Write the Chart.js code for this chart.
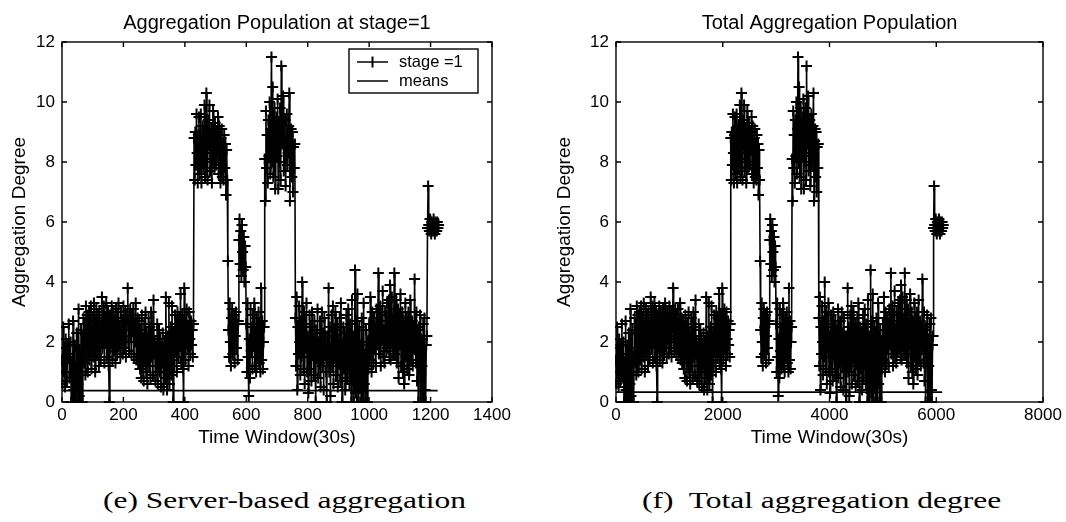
<!DOCTYPE html>
<html>
<head>
<meta charset="utf-8">
<script src="https://cdn.jsdelivr.net/npm/chart.js@4.4.1/dist/chart.umd.min.js"></script>
<style>
html,body{margin:0;padding:0;background:#fff;}
#page{position:relative;width:1066px;height:522px;overflow:hidden;background:#fff;}
.box{position:absolute;top:0;width:533px;height:460px;}
.cap{position:absolute;top:489px;font-family:"Liberation Serif","Times New Roman",serif;font-size:23.5px;line-height:23px;color:#000;white-space:pre;transform-origin:0 0;transform:scaleX(1.34);}
</style>
</head>
<body>
<div id="page">
  <div class="box" style="left:0"><canvas id="left" width="533" height="460"></canvas></div>
  <div class="box" style="left:533px"><canvas id="right" width="533" height="460"></canvas></div>
  <div class="cap" style="left:103px">(e) Server-based aggregation</div>
  <div class="cap" style="left:642px">(f)  Total aggregation degree</div>
</div>
<script>
// ---- data ----
const leftTitle = 'Aggregation Population at stage=1';
const rightTitle = 'Total Aggregation Population';
const xAxisTitle = 'Time Window(30s)';
const yAxisTitle = 'Aggregation Degree';
const legendLabels = ['stage =1', 'means'];

const leftXTicks = [0, 200, 400, 600, 800, 1000, 1200, 1400];
const rightXTicks = [0, 2000, 4000, 6000, 8000];
const yTicks = [0, 2, 4, 6, 8, 10, 12];

// sampling interval of the series in time windows (one value every N windows)
const leftStep = 2;
const rightStep = 10;

// aggregation degree samples
const stageValues = [
  1.4, 0.6, 2.5, 1.0, 1.8, 0.5, 2.1, 1.3, 0.7, 1.9,
  1.5, 2.6, 0.8, 1.6, 2.0,
  0.0, 1.3, 0.0, 2.7, 0.4, 0.0, 1.9, 0.0, 1.1, 2.3,
  0.0, 0.6, 3.1, 0.2, 1.7, 0.0, 2.4, 0.9, 0.0, 1.5, 2.8,
  1.3, 2.6, 0.9, 3.2, 1.8, 2.9, 1.0, 2.5, 3.0, 1.4,
  2.1, 3.2, 1.1, 2.4, 2.8, 1.5, 3.3, 2.0, 1.0, 2.7,
  3.1, 1.6, 2.3, 2.9, 1.2, 3.0, 2.2, 1.4, 2.6, 3.5,
  1.8, 2.5, 3.2, 1.3, 2.8, 2.0, 3.3, 1.5, 2.4, 3.0,
  1.2, 0.0, 2.9, 1.8, 2.6, 3.2, 1.4, 2.2, 3.0, 1.7,
  2.7, 1.3, 3.1, 2.0, 1.6, 2.8, 3.3, 1.9, 2.5, 1.5,
  3.0, 2.1, 2.7, 1.6, 3.2, 1.8, 2.4, 3.0, 1.5, 2.6,
  2.9, 3.8, 2.0, 1.7, 2.7, 3.1, 2.2, 1.6, 2.9, 2.4,
  3.1, 1.5, 2.6, 2.0, 3.3, 1.4, 2.5, 2.8, 1.3, 2.2,
  2.7, 1.1, 2.4, 0.8, 2.9, 1.6, 2.1, 0.7, 2.6, 1.4,
  3.0, 1.0, 2.3, 0.6, 1.9, 2.8, 1.2, 2.5, 0.8, 3.0,
  1.5, 2.2, 0.9, 3.4, 1.6, 2.0, 0.7, 1.8, 1.2, 2.6,
  0.6, 1.7, 2.4, 1.0, 2.1, 0.5, 1.8, 1.3, 2.3, 0.4,
  1.5, 2.0, 0.8, 3.5, 1.2, 0.4, 2.2, 1.0, 3.3, 0.6,
  1.8, 2.5, 0.9, 3.2, 1.4, 0.0, 2.3, 1.2, 2.9, 1.7,
  2.6, 1.0, 3.0, 2.2, 1.5, 2.8, 1.9, 3.6, 1.3, 2.4,
  2.9, 1.1, 0.0, 3.8, 2.0, 1.4, 2.7, 3.1, 1.8, 2.5,
  1.2, 3.0, 2.1, 1.6, 2.7, 1.9, 2.4, 1.5, 2.6,
  8.8, 7.4, 9.0, 7.9, 9.6, 8.3, 7.3, 8.9, 9.5, 7.6,
  8.5, 9.6, 7.3, 8.7, 9.2, 7.8, 8.4, 9.9, 7.5, 8.8,
  10.3, 8.1, 7.4, 9.4, 8.6, 9.9, 7.7, 8.3, 9.1, 7.3,
  8.9, 9.7, 8.0, 7.8, 9.3, 8.5, 7.9, 9.0, 8.4, 9.5,
  7.6, 9.2, 8.3, 7.3, 8.8, 9.1, 7.5, 8.6, 7.4, 8.9,
  7.8, 8.6, 6.9, 8.4, 7.4,
  4.7, 2.4, 1.5, 3.3, 2.0, 1.2, 2.8, 3.1, 1.6, 2.5,
  2.9, 1.3, 2.2, 3.0, 1.8, 2.6, 1.4, 2.7,
  5.4, 6.1, 4.6, 5.7, 4.2, 5.9, 5.0, 4.4, 5.5, 4.0, 5.2, 4.5,
  2.6, 1.0, 3.3, 1.5, 0.2, 2.1, 0.8, 3.1, 1.7, 2.5,
  1.1, 2.9, 1.9, 3.3, 1.2, 2.3, 1.0, 2.8, 1.5, 2.2,
  3.0, 1.3, 2.6, 1.0, 3.8, 1.4, 2.7, 1.1, 2.0, 2.5,
  8.1, 6.7, 9.7, 7.8, 8.9, 7.3, 9.4, 8.2, 10.0, 7.6,
  9.1, 11.5, 8.0, 10.5, 7.5, 8.9, 9.8, 7.1, 8.4, 9.5,
  8.2, 10.1, 7.1, 9.3, 8.0, 9.8, 7.4, 11.2, 8.6, 9.0,
  10.2, 7.7, 8.8, 9.4, 7.2, 8.5, 9.6, 7.9, 8.3, 9.2,
  10.3, 6.7, 8.7, 9.1, 7.5, 9.0, 7.0, 8.5, 7.8, 8.6,
  2.8, 1.2, 3.5, 0.4, 2.5, 1.6, 3.2, 2.0, 0.9, 2.7,
  1.5, 4.0, 2.3, 1.1, 3.0, 0.6, 2.6, 1.8, 3.3, 1.0,
  2.2, 0.3, 1.7, 2.9, 1.1, 2.5, 0.7, 3.0, 1.6, 2.1,
  0.9, 2.7, 1.4, 0.0, 2.4, 1.5, 3.1, 0.8, 2.0, 1.3,
  2.7, 0.5, 1.9, 3.0, 1.2, 2.3, 0.4, 2.8, 1.6, 2.2,
  1.0, 0.0, 2.2, 1.4, 3.8, 1.0, 2.5, 0.2, 1.8, 2.9,
  1.2, 3.2, 0.6, 2.4, 1.5, 3.0, 0.9, 1.6, 2.6, 0.5,
  2.1, 1.3, 2.8, 0.7, 3.3, 1.9, 0.0, 1.5, 2.5, 1.1,
  2.3, 0.4, 1.9, 2.9, 0.8, 1.3, 3.1, 2.0, 0.6, 2.6,
  1.4, 0.0, 3.4, 0.7, 2.2, 0.0, 1.5, 4.4, 0.3, 2.7,
  0.0, 3.6, 1.2, 0.0, 2.5, 0.5, 1.9, 0.0, 2.8, 1.0,
  0.0, 3.3, 0.6, 1.6, 0.0, 2.4, 1.2, 0.0, 2.0, 1.1,
  2.6, 1.4, 3.5, 2.0, 1.0, 3.0, 2.2, 1.3, 2.8, 1.8,
  2.4, 1.2, 3.1, 1.9, 2.6, 4.3, 1.6, 2.5, 3.2, 1.2,
  2.9, 2.1, 3.7, 1.5, 2.4, 1.3, 3.0, 2.2, 1.7, 3.3,
  1.8, 2.7, 3.4, 1.5, 3.9, 1.4, 2.2, 3.5, 2.0, 1.6,
  2.8, 4.3, 1.6, 2.9, 3.4, 1.3, 2.5, 3.1, 0.8, 2.6,
  1.9, 3.6, 1.2, 2.4, 3.0, 1.0, 2.7, 0.6, 2.2, 3.3,
  1.5, 2.8, 1.1, 2.5, 3.0, 0.9, 2.3, 3.4, 1.4, 2.0,
  2.7, 1.2, 2.3, 1.8, 4.1, 2.0, 1.3, 3.0, 0.7, 2.4,
  0.0, 2.5, 1.6, 2.9, 0.0, 2.1, 1.2, 0.0, 2.6, 0.0,
  2.8, 0.4, 0.0, 1.9, 2.2,
  5.8, 7.2, 5.9, 5.7, 6.1, 5.8, 5.6, 6.0, 5.9, 5.7,
  6.1, 5.8, 5.6, 6.0, 5.9, 5.7, 6.0, 5.8, 5.9
];
// the total-population panel shows the same sample sequence
const totalValues = stageValues;

// mean lines: [level, last time window]
const leftMean = [0.38, 1223];
const rightMean = [0.33, 6110];

// ---- plugins ----
const framePlugin = {
  id: 'matlabFrame',
  afterDatasetsDraw(chart) {
    const {ctx, chartArea: a, scales} = chart;
    const L = 5;
    ctx.save();
    ctx.strokeStyle = '#000';
    ctx.lineWidth = 1.4;
    ctx.strokeRect(a.left, a.top, a.right - a.left, a.bottom - a.top);
    ctx.beginPath();
    scales.x.ticks.forEach(t => {
      const px = scales.x.getPixelForValue(t.value);
      ctx.moveTo(px, a.bottom); ctx.lineTo(px, a.bottom - L);
      ctx.moveTo(px, a.top); ctx.lineTo(px, a.top + L);
    });
    scales.y.ticks.forEach(t => {
      const py = scales.y.getPixelForValue(t.value);
      ctx.moveTo(a.left, py); ctx.lineTo(a.left + L, py);
      ctx.moveTo(a.right, py); ctx.lineTo(a.right - L, py);
    });
    ctx.stroke();
    ctx.restore();
  }
};

const boxLegendPlugin = {
  id: 'boxLegend',
  afterDraw(chart, args, opts) {
    if (!opts || !opts.show) return;
    const {ctx, chartArea: a} = chart;
    const w = 129, h = 44;
    const x0 = a.right - 143, y0 = a.top + 7;
    ctx.save();
    ctx.fillStyle = '#fff';
    ctx.fillRect(x0, y0, w, h);
    ctx.strokeStyle = '#000';
    ctx.lineWidth = 1.4;
    ctx.strokeRect(x0, y0, w, h);
    const rows = [y0 + 13, y0 + 32];
    ctx.lineWidth = 1.5;
    rows.forEach(ry => {
      ctx.beginPath();
      ctx.moveTo(x0 + 8, ry); ctx.lineTo(x0 + 39, ry);
      ctx.stroke();
    });
    ctx.lineWidth = 2;
    ctx.beginPath();
    ctx.moveTo(x0 + 23.5, rows[0] - 5.5); ctx.lineTo(x0 + 23.5, rows[0] + 5.5);
    ctx.stroke();
    ctx.fillStyle = '#000';
    ctx.font = '16.5px "Liberation Sans", Arial, sans-serif';
    ctx.textBaseline = 'middle';
    ctx.textAlign = 'left';
    opts.labels.forEach((t, i) => ctx.fillText(t, x0 + 50, rows[i]));
    ctx.restore();
  }
};

// ---- chart builder ----
const FONT = '"Liberation Sans", Arial, sans-serif';

function makeChart(id, cfg) {
  const seriesPts = cfg.values.map((v, i) => ({x: i * cfg.step, y: v}));
  const meanPts = [{x: 0, y: cfg.mean[0]}, {x: cfg.mean[1], y: cfg.mean[0]}];
  const tickSetter = list => scale => { scale.ticks = list.map(v => ({value: v})); };
  return new Chart(document.getElementById(id), {
    type: 'line',
    data: {
      datasets: [
        {
          label: legendLabels[0],
          data: seriesPts,
          borderColor: '#000',
          backgroundColor: '#000',
          borderWidth: 1.6,
          pointStyle: 'cross',
          pointRadius: 5.5,
          pointBorderWidth: 2,
          pointBorderColor: '#000',
          pointHoverRadius: 5.5,
          tension: 0,
          fill: false,
          clip: 1
        },
        {
          label: legendLabels[1],
          data: meanPts,
          borderColor: '#000',
          borderWidth: 1.8,
          pointRadius: 0,
          tension: 0,
          fill: false
        }
      ]
    },
    options: {
      responsive: false,
      animation: false,
      events: [],
      layout: {padding: {left: cfg.padLeft, right: cfg.padRight, top: 0, bottom: 0}},
      plugins: {
        legend: {display: false},
        tooltip: {enabled: false},
        title: {display: false},
        boxLegend: {show: cfg.legend, labels: legendLabels}
      },
      scales: {
        x: {
          type: 'linear',
          position: 'bottom',
          min: cfg.xTicks[0],
          max: cfg.xTicks[cfg.xTicks.length - 1],
          afterBuildTicks: tickSetter(cfg.xTicks),
          afterFit: s => { s.height = 58; },
          grid: {display: false, drawTicks: false},
          border: {display: false},
          ticks: {
            color: '#000',
            padding: 3,
            maxRotation: 0,
            autoSkip: false,
            font: {family: FONT, size: 17},
            callback: v => String(v)
          },
          title: {
            display: true,
            text: xAxisTitle,
            color: '#000',
            font: {family: FONT, size: 19},
            padding: {top: 0, bottom: 10.6}
          }
        },
        xTop: {
          type: 'linear',
          position: 'top',
          min: cfg.xTicks[0],
          max: cfg.xTicks[cfg.xTicks.length - 1],
          afterFit: s => { s.height = 42; },
          grid: {display: false, drawTicks: false},
          border: {display: false},
          ticks: {display: false},
          title: {
            display: true,
            text: cfg.title,
            color: '#000',
            font: {family: FONT, size: 20},
            padding: {top: 11.3, bottom: 0}
          }
        },
        y: {
          type: 'linear',
          position: 'left',
          min: yTicks[0],
          max: yTicks[yTicks.length - 1],
          afterBuildTicks: tickSetter(yTicks),
          afterFit: s => { s.width = cfg.yWidth; },
          grid: {display: false, drawTicks: false},
          border: {display: false},
          ticks: {
            color: '#000',
            padding: 7,
            autoSkip: false,
            font: {family: FONT, size: 17},
            callback: v => String(v)
          },
          title: {
            display: true,
            text: yAxisTitle,
            color: '#000',
            font: {family: FONT, size: 19},
            padding: {top: 8.6, bottom: 0}
          }
        }
      }
    },
    plugins: [framePlugin, boxLegendPlugin]
  });
}

makeChart('left', {
  values: stageValues, step: leftStep, mean: leftMean, xTicks: leftXTicks,
  title: leftTitle, padLeft: 0, padRight: 41, yWidth: 62, legend: true
});
makeChart('right', {
  values: totalValues, step: rightStep, mean: rightMean, xTicks: rightXTicks,
  title: rightTitle, padLeft: 12, padRight: 23, yWidth: 71, legend: false
});
</script>
</body>
</html>
